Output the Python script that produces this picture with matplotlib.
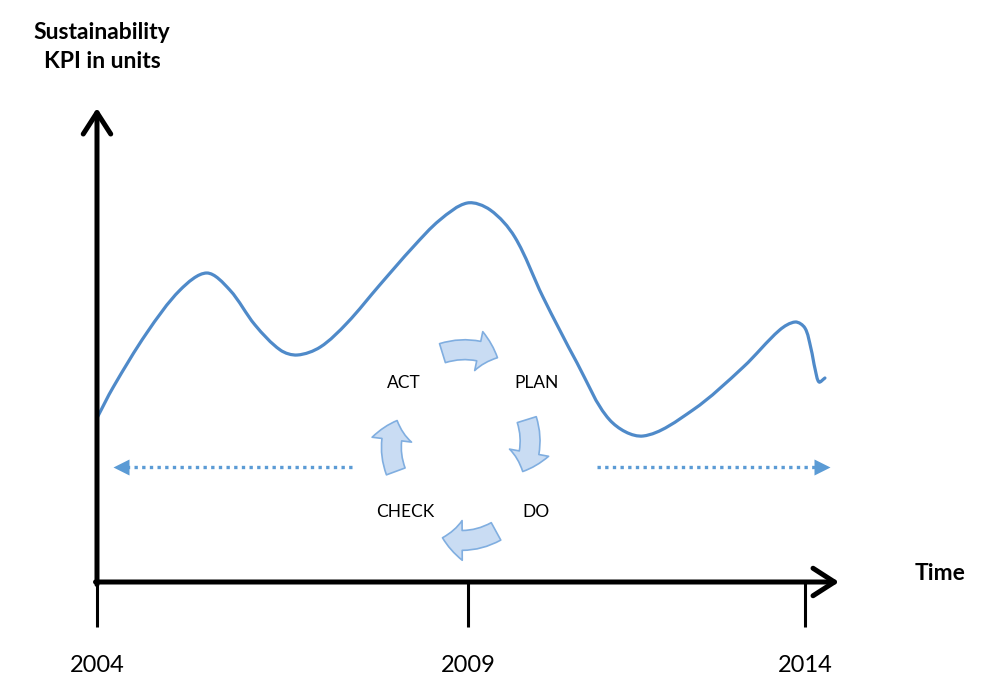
import matplotlib
matplotlib.use("Agg")
import matplotlib.pyplot as plt
from matplotlib.path import Path
from matplotlib.patches import PathPatch, FancyArrowPatch
import numpy as np

# KPI curve (year, KPI units)
years = [2004.00, 2004.22, 2004.67, 2005.12, 2005.48, 2005.79, 2006.13, 2006.47,
         2006.70, 2007.01, 2007.37, 2007.81, 2008.26, 2008.62, 2008.99, 2009.30,
         2009.63, 2010.01, 2010.47, 2010.91, 2011.36, 2012.03, 2012.71, 2013.20,
         2013.41, 2013.54, 2013.62, 2013.68, 2013.73, 2013.81]
kpi = [32.8, 39.0, 49.8, 58.4, 61.8, 58.4, 51.4, 46.4,
       45.4, 47.0, 51.8, 59.4, 67.0, 72.4, 75.8, 74.4,
       69.0, 57.0, 43.8, 32.4, 29.2, 34.4, 43.0, 50.4,
       52.0, 50.8, 46.8, 42.4, 40.0, 40.8]

tick_pos = [2004, 2009, 2013.54]
tick_labels = ["2004", "2009", "2014"]

cycle_words = ["ACT", "PLAN", "CHECK", "DO"]
cycle_x = [2008.14, 2009.92, 2008.16, 2009.92]
cycle_y = [39.8, 39.8, 14.0, 14.0]

blue = "#4f8ac9"
font = "Lato"
sx, sy = 74.2, 5.0   # pixels per year / per KPI unit

fig = plt.figure(figsize=(9.83, 6.82), dpi=100)
ax = fig.add_axes([0, 0, 1, 1])
ax.set_xlim(2002.693, 2015.94)
ax.set_ylim(-20, 116.4)
ax.axis("off")

# smooth curve through the read points (chord-length Hermite -> cubic bezier)
pts = np.column_stack([years, kpi])
scale = np.array([sx, sy])
chord = np.r_[0, np.cumsum(np.hypot(*(np.diff(pts, axis=0) * scale).T))]
n = len(pts)
tang = np.zeros_like(pts)
for i in range(n):
    a, b = max(i - 1, 0), min(i + 1, n - 1)
    tang[i] = (pts[b] - pts[a]) / (chord[b] - chord[a])
verts = [pts[0]]
codes = [Path.MOVETO]
for i in range(n - 1):
    h = chord[i + 1] - chord[i]
    verts += [pts[i] + tang[i] * h / 3, pts[i + 1] - tang[i + 1] * h / 3, pts[i + 1]]
    codes += [Path.CURVE4] * 3
ax.add_patch(PathPatch(Path(verts, codes), facecolor="none", edgecolor=blue,
                       lw=2.3, capstyle="round", joinstyle="round"))

# axes with arrows
arrow_kw = dict(arrowstyle="->,head_length=0.7,head_width=0.45", lw=3.6,
                color="black", mutation_scale=22, shrinkA=0, shrinkB=0)
ax.annotate("", xy=(2004, 94.8), xytext=(2004, -0.5), arrowprops=arrow_kw)
ax.annotate("", xy=(2014.0, 0), xytext=(2003.98, 0), arrowprops=arrow_kw)
for t, lab in zip(tick_pos, tick_labels):
    ax.plot([t, t], [0, -9], color="black", lw=2.2, solid_capstyle="butt")
    ax.text(t, -16.6, lab, ha="center", va="center", fontsize=17, family=font)

ax.text(2004.07, 107, "Sustainability\nKPI in units", ha="center", va="center",
        fontsize=16.5, fontweight="bold", family=font, linespacing=1.45)
ax.text(2015.36, 1.8, "Time", ha="center", va="center", fontsize=16.5,
        fontweight="bold", family=font)

# dotted arrows
dot_blue = "#5b9bd5"
ax.plot([2007.44, 2004.40], [23, 23], color=dot_blue, lw=2.4, linestyle=(0, (1, 1.3)))
ax.plot([2004.33], [23], marker="<", color=dot_blue, markersize=11, mec="none")
ax.plot([2010.74, 2013.70], [23, 23], color=dot_blue, lw=2.4, linestyle=(0, (1, 1.3)))
ax.plot([2013.77], [23], marker=">", color=dot_blue, markersize=11, mec="none")

# PDCA cycle
for w, x, y in zip(cycle_words, cycle_x, cycle_y):
    ax.text(x, y, w, ha="center", va="center", fontsize=12.5, family=font)

cycle_arrows = [((2008.62, 45.6), (2009.43, 44.6)),
                ((2009.78, 33.0), (2009.72, 21.6)),
                ((2009.41, 10.4), (2008.62, 9.0)),
                ((2008.04, 21.6), (2008.06, 32.8))]
for a, b in cycle_arrows:
    ax.add_patch(FancyArrowPatch(a, b, connectionstyle="arc3,rad=-0.22",
                                 arrowstyle="simple,head_length=0.55,head_width=1.1,tail_width=0.55",
                                 mutation_scale=26, facecolor="#c9dcf3",
                                 edgecolor="#80aee0", lw=1.2))

fig.savefig("out.png", dpi=100)
